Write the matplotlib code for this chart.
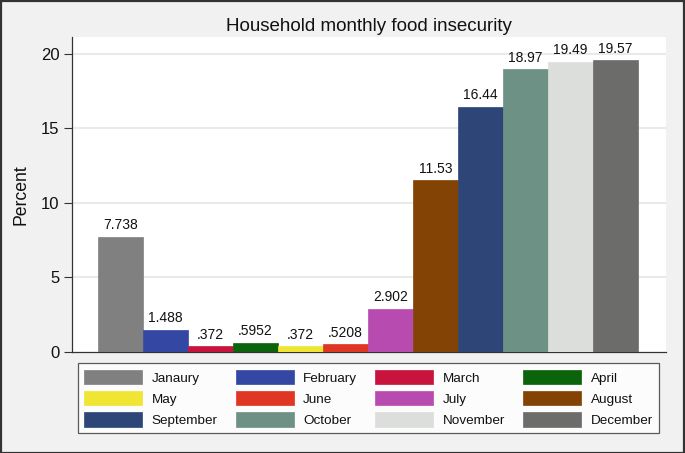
import matplotlib
matplotlib.use("Agg")
import matplotlib.pyplot as plt
from matplotlib.patches import Patch, Rectangle

months = ["Janaury", "February", "March", "April", "May", "June", "July",
          "August", "September", "October", "November", "December"]
values = [7.738, 1.488, 0.372, 0.5952, 0.372, 0.5208, 2.902,
          11.53, 16.44, 18.97, 19.49, 19.57]
value_labels = ["7.738", "1.488", ".372", ".5952", ".372", ".5208", "2.902",
                "11.53", "16.44", "18.97", "19.49", "19.57"]
colors = ["#808080", "#3347A3", "#C8143C", "#0B640B", "#F0E532", "#E03624",
          "#B84BB0", "#824305", "#2E4677", "#6E9185", "#DCDEDC", "#6C6C6A"]
yticks = [0, 5, 10, 15, 20]

plt.rcParams['font.family'] = ['Liberation Sans', 'DejaVu Sans']

W, H = 685, 453
fig = plt.figure(figsize=(W / 100, H / 100), dpi=100)
fig.patch.set_facecolor("#f1f1f1")
fig.patches.append(Rectangle((0.001, 0.001), 0.998, 0.997, transform=fig.transFigure,
                             fill=False, edgecolor="#333333", linewidth=1.6))

ax_l, ax_r, ax_t, ax_b = 72, 666, 36.7, 352
ax = fig.add_axes([ax_l / W, 1 - ax_b / H, (ax_r - ax_l) / W, (ax_b - ax_t) / H])
ax.set_facecolor("white")

x = list(range(len(months)))
ax.bar(x, values, width=1.0, color=colors, edgecolor=colors, linewidth=0.5, zorder=3)
for xi, v, lab in zip(x, values, value_labels):
    ax.annotate(lab, (xi, v), xytext=(0, 5.5), textcoords="offset points",
                ha="center", va="baseline", fontsize=10, color="#111111", zorder=4)

ax.set_xlim(-1.08, 12.12)
ax.set_ylim(0, 21.16)
ax.set_xticks([])
ax.set_yticks(yticks)
ax.set_yticklabels([str(t) for t in yticks], fontsize=12, color="#111111")
ax.tick_params(axis="y", length=6, width=0.8, color="#333333", pad=3)
for t in yticks[1:]:
    ax.axhline(t, color="#eaeaea", linewidth=1.5, zorder=1)
for s in ["top", "right"]:
    ax.spines[s].set_visible(False)
for s in ["left", "bottom"]:
    ax.spines[s].set_color("#333333")
    ax.spines[s].set_linewidth(0.9)

ax.set_ylabel("Percent", fontsize=12.7, color="#111111")
ax.yaxis.set_label_coords((29.7 - ax_l) / (ax_r - ax_l), 0.5)

fig.text((ax_l + ax_r) / 2 / W, 1 - 31 / H, "Household monthly food insecurity",
         ha="center", va="baseline", fontsize=13.5, color="#111111")

# legend filled row by row (4 columns, 3 rows)
ncol, nrow = 4, 3
order = [r * ncol + c for c in range(ncol) for r in range(nrow)]
handles = [Patch(facecolor=colors[i], edgecolor=colors[i], linewidth=0.5) for i in order]
labels = [months[i] for i in order]
fs = 9.7
fpx = fs / 0.72
leg = fig.legend(handles, labels, ncol=ncol, loc="upper center",
                 bbox_to_anchor=(368.5 / W, 1 - 363.3 / H),
                 fontsize=fs, frameon=True, fancybox=False,
                 handlelength=58 / fpx, handleheight=17 / fpx,
                 handletextpad=9.5 / fpx, labelspacing=6.5 / fpx,
                 columnspacing=18 / fpx, borderpad=6.5 / fpx, borderaxespad=0)
leg.get_frame().set_edgecolor("#333333")
leg.get_frame().set_linewidth(0.9)
leg.get_frame().set_facecolor("white")
for t in leg.get_texts():
    t.set_color("#111111")

fig.savefig("out.png", dpi=100, facecolor=fig.get_facecolor())
